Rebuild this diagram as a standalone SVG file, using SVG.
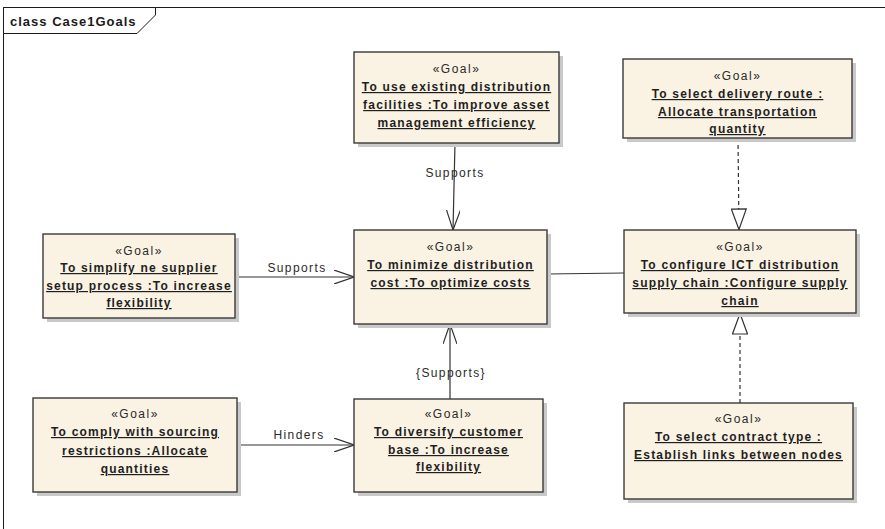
<svg xmlns="http://www.w3.org/2000/svg" width="885" height="529" viewBox="0 0 885 529">
  <style>
    .frame { fill: none; stroke: #1a1a1a; stroke-width: 1; }
    .tab { fill: #ffffff; stroke: #1a1a1a; stroke-width: 1; }
    .tabtext { font-family: "Liberation Sans", Arial, sans-serif; font-weight: bold; font-size: 13px; letter-spacing: 1px; fill: #1a1a1a; }
    .shadow { fill: #c9c9c9; }
    .box { fill: #faf2e3; stroke: #3a3a3a; stroke-width: 1.4; }
    .stereo { font-family: "Liberation Sans", Arial, sans-serif; font-size: 12px; letter-spacing: 1.5px; fill: #2a2a2a; text-anchor: middle; }
    .name { font-family: "Liberation Sans", Arial, sans-serif; font-weight: bold; font-size: 12px; letter-spacing: 1.2px; fill: #1f1f1f; text-anchor: middle; text-decoration: underline; text-underline-offset: 2px; }
    .conn { fill: none; stroke: #333333; stroke-width: 1.2; }
    .dash { stroke-dasharray: 4 3; }
    .label { font-family: "Liberation Sans", Arial, sans-serif; font-size: 12px; letter-spacing: 1.4px; fill: #2a2a2a; text-anchor: middle; }
  </style>
  <defs>
    <marker id="open" viewBox="0 0 20 14" refX="20" refY="7" markerWidth="20" markerHeight="14" markerUnits="userSpaceOnUse" orient="auto">
      <path d="M0,0 L20,7 L0,14" fill="none" stroke="#333333" stroke-width="1.2"/>
    </marker>
    <marker id="realize" viewBox="0 0 22 16" refX="22" refY="8" markerWidth="22" markerHeight="16" markerUnits="userSpaceOnUse" orient="auto">
      <path d="M1,0.5 L21.5,8 L1,15.5 Z" fill="#ffffff" stroke="#333333" stroke-width="1.2"/>
    </marker>
  </defs>

  <!-- diagram frame -->
  <g id="frame">
    <rect class="frame" x="3.5" y="7.5" width="890" height="540"/>
    <path class="tab" d="M3.5,7.5 L155.5,7.5 L155.5,15 L137,33.5 L3.5,33.5 Z"/>
    <text class="tabtext" x="10" y="26">class Case1Goals</text>
  </g>

  <!-- connectors -->
  <g id="connectors">
    <path class="conn" d="M455,143 L453,230" marker-end="url(#open)"/>
    <text class="label" x="455" y="177">Supports</text>

    <path class="conn" d="M235,277 L354,277" marker-end="url(#open)"/>
    <text class="label" x="297" y="272">Supports</text>

    <path class="conn" d="M547,274 L624,273"/>

    <path class="conn dash" d="M738,138 L739,230" marker-end="url(#realize)"/>
    <path class="conn dash" d="M740,403 L740,313" marker-end="url(#realize)"/>

    <path class="conn" d="M237,445 L354,445" marker-end="url(#open)"/>
    <text class="label" x="299" y="439">Hinders</text>

    <path class="conn" d="M450,399 L450,324" marker-end="url(#open)"/>
    <text class="label" x="451" y="377">{Supports}</text>
  </g>

  <!-- goal nodes -->
  <g id="goal-existing-facilities">
    <rect class="shadow" x="358" y="56" width="205" height="91"/>
    <rect class="box" x="354" y="52" width="205" height="91"/>
    <text class="stereo" x="456.5" y="73">«Goal»</text>
    <text class="name" x="456.5" y="91">To use existing distribution</text>
    <text class="name" x="456.5" y="109">facilities :To improve asset</text>
    <text class="name" x="456.5" y="127">management efficiency</text>
  </g>

  <g id="goal-delivery-route">
    <rect class="shadow" x="627" y="63" width="229" height="79"/>
    <rect class="box" x="623" y="59" width="229" height="79"/>
    <text class="stereo" x="737.5" y="80">«Goal»</text>
    <text class="name" x="737.5" y="98">To select delivery route :</text>
    <text class="name" x="737.5" y="116">Allocate transportation</text>
    <text class="name" x="737.5" y="133">quantity</text>
  </g>

  <g id="goal-simplify-supplier">
    <rect class="shadow" x="47" y="238" width="192" height="84"/>
    <rect class="box" x="43" y="234" width="192" height="84"/>
    <text class="stereo" x="139" y="255">«Goal»</text>
    <text class="name" x="139" y="272">To simplify ne supplier</text>
    <text class="name" x="139" y="290">setup process :To increase</text>
    <text class="name" x="139" y="307">flexibility</text>
  </g>

  <g id="goal-minimize-cost">
    <rect class="shadow" x="358" y="234" width="193" height="94"/>
    <rect class="box" x="354" y="230" width="193" height="94"/>
    <text class="stereo" x="450.5" y="251">«Goal»</text>
    <text class="name" x="450.5" y="269">To minimize distribution</text>
    <text class="name" x="450.5" y="287">cost :To optimize costs</text>
  </g>

  <g id="goal-configure-ict">
    <rect class="shadow" x="628" y="234" width="232" height="83"/>
    <rect class="box" x="624" y="230" width="232" height="83"/>
    <text class="stereo" x="740" y="251">«Goal»</text>
    <text class="name" x="740" y="269">To configure ICT distribution</text>
    <text class="name" x="740" y="287">supply chain :Configure supply</text>
    <text class="name" x="740" y="305">chain</text>
  </g>

  <g id="goal-comply-sourcing">
    <rect class="shadow" x="37" y="402" width="204" height="94"/>
    <rect class="box" x="33" y="398" width="204" height="94"/>
    <text class="stereo" x="135" y="418">«Goal»</text>
    <text class="name" x="135" y="436">To comply with sourcing</text>
    <text class="name" x="135" y="455">restrictions :Allocate</text>
    <text class="name" x="135" y="473">quantities</text>
  </g>

  <g id="goal-diversify-customer">
    <rect class="shadow" x="358" y="403" width="189" height="93"/>
    <rect class="box" x="354" y="399" width="189" height="93"/>
    <text class="stereo" x="448.5" y="418">«Goal»</text>
    <text class="name" x="448.5" y="436">To diversify customer</text>
    <text class="name" x="448.5" y="454">base :To increase</text>
    <text class="name" x="448.5" y="471">flexibility</text>
  </g>

  <g id="goal-contract-type">
    <rect class="shadow" x="628" y="407" width="229" height="96"/>
    <rect class="box" x="624" y="403" width="229" height="96"/>
    <text class="stereo" x="738.5" y="423">«Goal»</text>
    <text class="name" x="738.5" y="441">To select contract type :</text>
    <text class="name" x="738.5" y="459">Establish links between nodes</text>
  </g>
</svg>
